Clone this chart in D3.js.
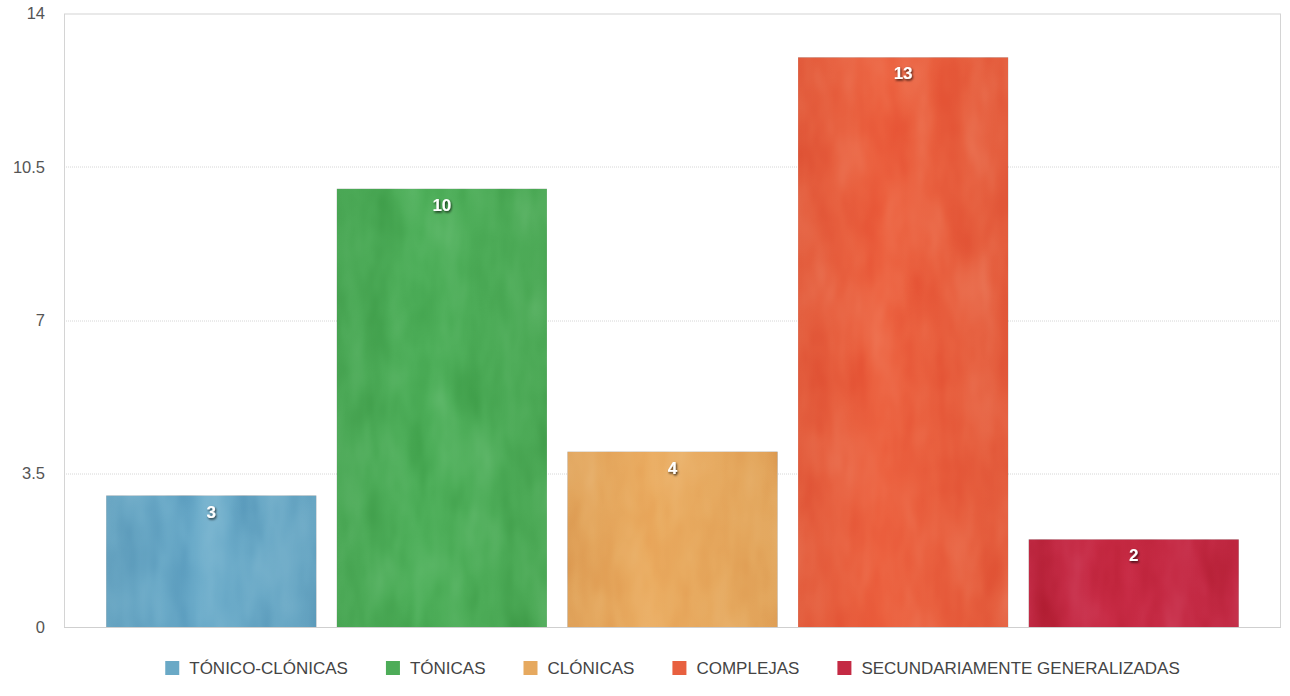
<!DOCTYPE html>
<html>
<head>
<meta charset="utf-8">
<script src="https://cdn.jsdelivr.net/npm/d3@7"></script>
<style>
  body { margin: 0; background: #fff; }
  text { font-family: "Liberation Sans", Arial, Helvetica, sans-serif; }
</style>
</head>
<body>
<div id="chart"></div>
<script>
// data
var categories = ["TÓNICO-CLÓNICAS", "TÓNICAS", "CLÓNICAS", "COMPLEJAS", "SECUNDARIAMENTE GENERALIZADAS"];
var values = [3, 10, 4, 13, 2];
var colors = ["#6aa9c6", "#4dac58", "#e6a95f", "#e8603f", "#c42a44"];
var yTicks = [0, 3.5, 7, 10.5, 14];

var svgWidth = 1290;
var svgHeight = 696;
var margin = { top: 13.5, right: 9, bottom: 69, left: 64 };
var width = svgWidth - margin.left - margin.right;
var height = svgHeight - margin.top - margin.bottom;

var svg = d3.select("#chart").append("svg")
  .attr("width", svgWidth)
  .attr("height", svgHeight);

var defs = svg.append("defs");

// soft shading for the painted look of the bars
colors.forEach(function(c, i) {
  var g = defs.append("linearGradient")
    .attr("id", "grad" + i)
    .attr("x1", "0").attr("y1", "0").attr("x2", "1").attr("y2", "0");
  var base = d3.color(c);
  g.append("stop").attr("offset", "0%").attr("stop-color", base.darker(0.06));
  g.append("stop").attr("offset", "40%").attr("stop-color", base.brighter(0.05));
  g.append("stop").attr("offset", "100%").attr("stop-color", base.darker(0.05));
});

// light brush-stroke texture
var paint = defs.append("filter").attr("id", "paint")
  .attr("x", 0).attr("y", 0).attr("width", 1).attr("height", 1)
  .attr("color-interpolation-filters", "sRGB");
paint.append("feTurbulence")
  .attr("type", "fractalNoise")
  .attr("baseFrequency", "0.03 0.012")
  .attr("numOctaves", 3)
  .attr("seed", 5)
  .attr("result", "noise");
paint.append("feColorMatrix")
  .attr("in", "noise")
  .attr("type", "matrix")
  .attr("values", "0.2 0.2 0.2 0 0.2  0.2 0.2 0.2 0 0.2  0.2 0.2 0.2 0 0.2  0 0 0 0 1")
  .attr("result", "gray");
paint.append("feBlend")
  .attr("in", "gray")
  .attr("in2", "SourceGraphic")
  .attr("mode", "soft-light")
  .attr("result", "blend");
paint.append("feComposite")
  .attr("in", "blend")
  .attr("in2", "SourceGraphic")
  .attr("operator", "in");

var shadow = defs.append("filter").attr("id", "shadow")
  .attr("x", "-50%").attr("y", "-50%").attr("width", "200%").attr("height", "200%");
shadow.append("feDropShadow")
  .attr("dx", 1).attr("dy", 1.5).attr("stdDeviation", 1)
  .attr("flood-color", "#000").attr("flood-opacity", 0.75);

var chartGroup = svg.append("g")
  .attr("transform", `translate(${margin.left}, ${margin.top})`);

var x = d3.scaleBand()
  .domain(categories)
  .range([0, width])
  .paddingInner(0.089)
  .paddingOuter(0.183);

var y = d3.scaleLinear()
  .domain([0, 14])
  .range([height, 0]);

// grid lines
chartGroup.append("g")
  .selectAll("line")
  .data(yTicks.filter(d => d > 0 && d < 14))
  .enter().append("line")
  .attr("x1", 0).attr("x2", width)
  .attr("y1", d => Math.round(y(d)) + 0.5)
  .attr("y2", d => Math.round(y(d)) + 0.5)
  .attr("stroke", "#d6d6d6")
  .attr("stroke-dasharray", "1,1");

// frame
chartGroup.append("rect")
  .attr("x", 0.5).attr("y", 0.5)
  .attr("width", width - 1).attr("height", height)
  .attr("fill", "none")
  .attr("stroke", "#d4d4d4");

// y axis
var leftAxis = d3.axisLeft(y).tickValues(yTicks).tickSize(0).tickPadding(19)
  .tickFormat(d3.format("~g"));
var yAxis = chartGroup.append("g").call(leftAxis);
yAxis.select(".domain").remove();
yAxis.attr("font-size", null).attr("font-family", null);
yAxis.selectAll("text")
  .style("font-size", "16.5px")
  .attr("fill", "#555");

// bars
chartGroup.selectAll(".bar")
  .data(values)
  .enter().append("rect")
  .attr("class", "bar")
  .attr("x", (d, i) => x(categories[i]))
  .attr("y", d => y(d))
  .attr("width", x.bandwidth())
  .attr("height", d => height - y(d))
  .attr("fill", (d, i) => "url(#grad" + i + ")")
  .attr("filter", "url(#paint)");

// bottom line over bars
chartGroup.append("line")
  .attr("x1", 0).attr("x2", width)
  .attr("y1", height + 0.5).attr("y2", height + 0.5)
  .attr("stroke", "#cfcfcf");

// value labels
chartGroup.selectAll(".val")
  .data(values)
  .enter().append("text")
  .attr("class", "val")
  .attr("x", (d, i) => x(categories[i]) + x.bandwidth() / 2)
  .attr("y", d => y(d) + 22)
  .attr("text-anchor", "middle")
  .attr("font-size", 17)
  .attr("font-weight", "bold")
  .attr("fill", "#fff")
  .attr("filter", "url(#shadow)")
  .text(d => d);

// legend
var legend = svg.append("g");
var items = legend.selectAll(".item")
  .data(categories)
  .enter().append("g")
  .attr("class", "item");
items.append("rect")
  .attr("width", 14).attr("height", 14)
  .attr("y", -7)
  .attr("fill", (d, i) => colors[i]);
items.append("text")
  .attr("x", 24)
  .attr("y", 6)
  .attr("font-size", 17)
  .attr("fill", "#444")
  .text(d => d);

var gap = 38;
var pos = 0;
var offsets = [];
items.each(function(d, i) {
  offsets.push(pos);
  var w = d3.select(this).select("text").node().getComputedTextLength();
  pos += 24 + w + gap;
});
var total = pos - gap;
items.attr("transform", (d, i) => `translate(${offsets[i]}, 0)`);
legend.attr("transform", `translate(${margin.left + width / 2 - total / 2}, 668)`);
</script>
</body>
</html>
